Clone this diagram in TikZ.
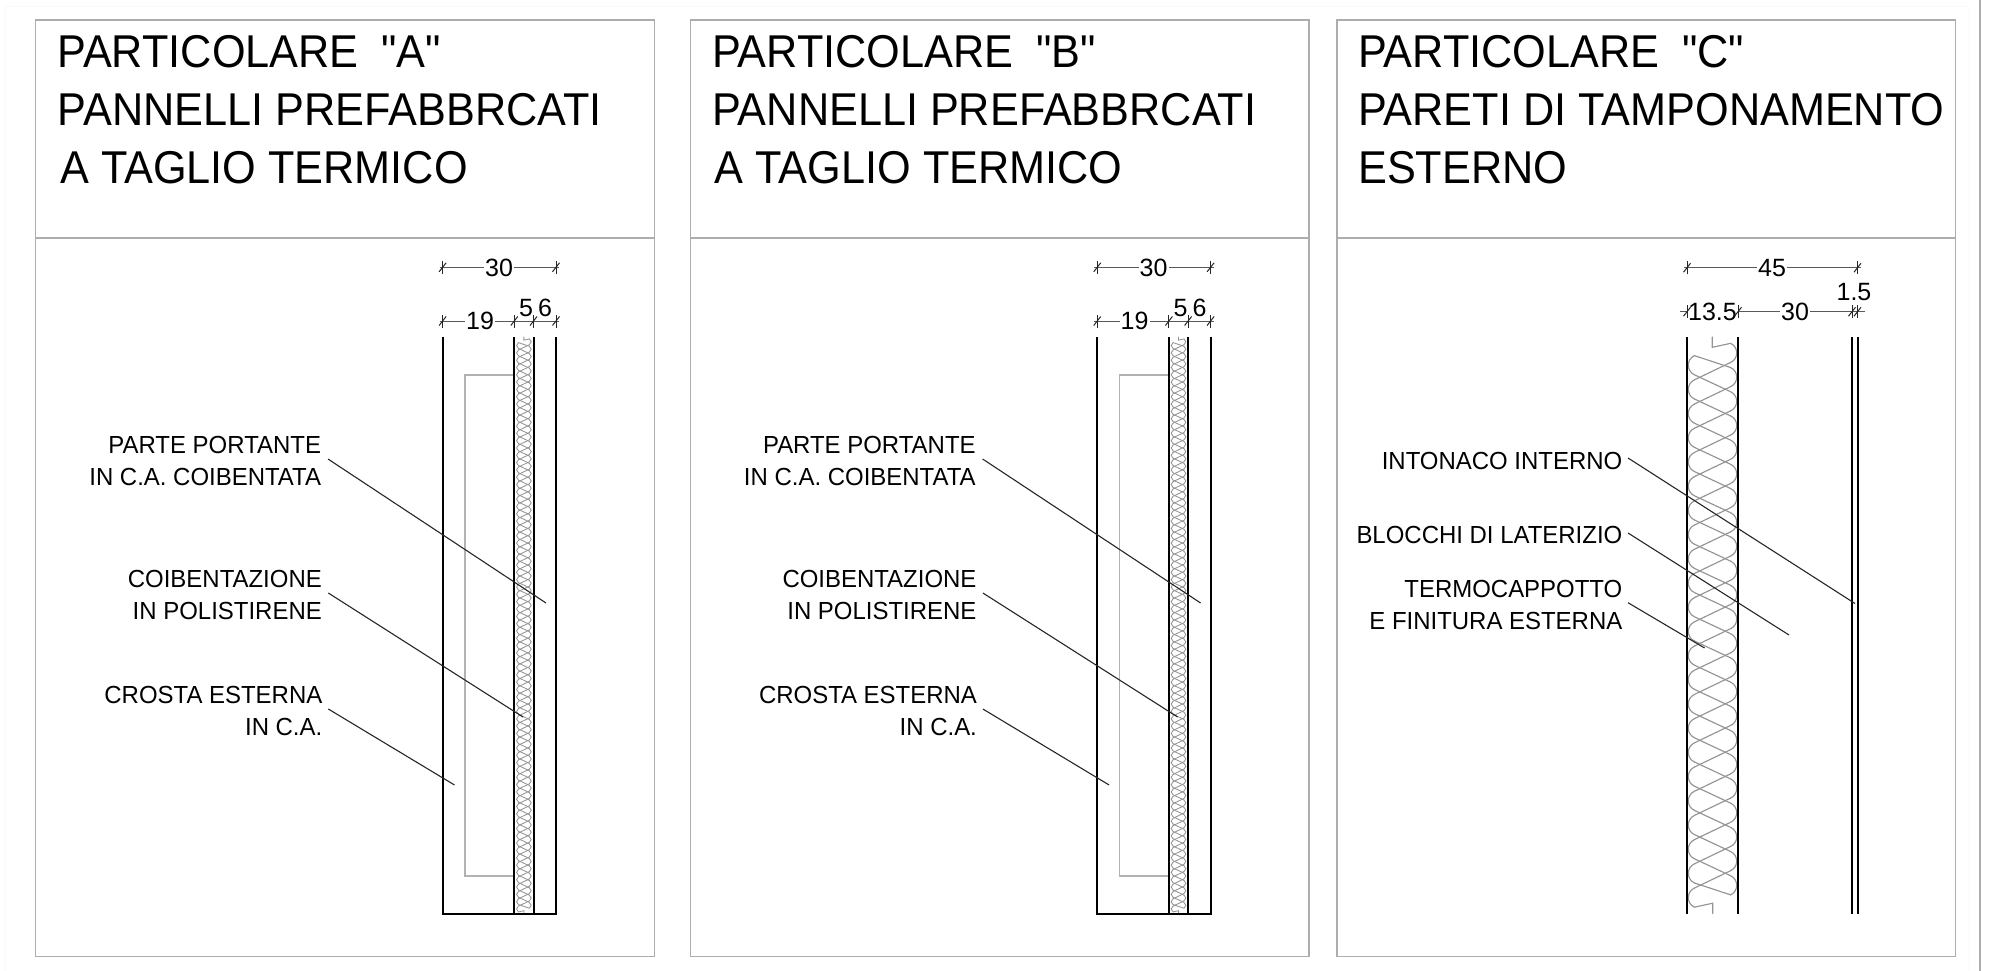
\documentclass[tikz,border=0pt]{standalone}
\usepackage{fontspec}
\setmainfont{Liberation Sans}[Ligatures=TeXOff]
\newfontfamily\titlefont{Liberation Sans}[FakeStretch=0.94,Ligatures=TeXOff]
\newfontfamily\labelfont{Liberation Sans}[FakeStretch=0.97,Ligatures=TeXOff]
\tikzset{
  frameline/.style={draw=black!32,line width=1.5pt},
  faintline/.style={draw=black!2,line width=1pt},
  wallline/.style={draw=black,line width=2pt},
  innerline/.style={draw=black!30,line width=1.3pt},
  battline/.style={draw=black!42,line width=1.15pt,line cap=round},
  leaderline/.style={draw=black!85,line width=1.1pt},
  dimline/.style={draw=black!65,line width=1pt},
  dimtickline/.style={draw=black!85,line width=1pt},
  titletext/.style={anchor=base west,inner sep=0pt,font=\titlefont\fontsize{46}{46}\selectfont},
  labeltext/.style={anchor=base east,inner sep=0pt,align=right,font=\labelfont\fontsize{24.7}{32}\selectfont},
  dimtext/.style={anchor=base,inner sep=1pt,font=\fontsize{25}{25}\selectfont},
  dimtextbg/.style={dimtext,fill=white},
}
% one tick mark at a named coordinate
\newcommand{\dimtk}[1]{\draw[dimtickline] ([shift={(0,6.5)}]#1) -- ([shift={(0,-6.5)}]#1);
  \draw[dimtickline] ([shift={(-3.5,4.5)}]#1) -- ([shift={(3.5,-4.5)}]#1);}
% insulation batt: centre x, top y, scale, N, line width
\newcommand{\battfill}[5]{%
\begin{scope}[shift={(#1,#2)},scale=#3,battline/.append style={line width=#5}]
\pgfmathsetmacro{\Hh}{44.1+24.2*#4}
\pgfmathtruncatemacro{\Nlast}{#4}
\foreach \k in {0,...,\Nlast}{
  \pgfmathsetmacro{\yR}{15.9+24.2*\k}
  \pgfmathsetmacro{\yL}{28.2+24.2*\k}
  \draw[battline] (18.11,\yR-9.56) .. controls (26.23,\yR-5.77) and (26.23,\yR+5.77) .. (18.11,\yR+9.56);
  \draw[battline] (-18.11,\yL-9.56) .. controls (-26.23,\yL-5.77) and (-26.23,\yL+5.77) .. (-18.11,\yL+9.56);
  \ifnum\k<\Nlast
    \pgfmathsetmacro{\yLn}{\yL+24.2}
    \draw[battline] (18.11,\yR+9.56) -- (-18.11,\yLn-9.56);
  \fi
  \pgfmathtruncatemacro{\Nb}{\Nlast-1}
  \ifnum\k<\Nb
    \pgfmathsetmacro{\yRn}{\yR+48.4}
    \draw[battline] (-18.11,\yL+9.56) -- (18.11,\yRn-9.56);
  \fi
}
\pgfmathsetmacro{\ya}{28.2-9.56}
\pgfmathsetmacro{\yb}{15.9+24.2-9.56}
\draw[battline] (-18.11,\ya) -- (18.11,\yb);
\pgfmathsetmacro{\yc}{\Hh-\ya}
\pgfmathsetmacro{\yd}{\Hh-\yb}
\draw[battline] (18.11,\yc) -- (-18.11,\yd);
\draw[battline] (18.11,6.34) -- (-0.2,10.3) -- (-0.2,0);
\pgfmathsetmacro{\ye}{\Hh-6.34}
\pgfmathsetmacro{\yf}{\Hh-10.3}
\draw[battline] (-18.11,\ye) -- (0.2,\yf) -- (0.2,\Hh);
\end{scope}}
% panels A and B
\newcommand{\prefabpanel}[3]{%
\begin{scope}[xshift=#2pt]
\coordinate (#1fa) at (35.7,20);
\coordinate (#1fb) at (654.3,956.3);
\draw[frameline] (#1fa) rectangle (#1fb);
\coordinate (#1da) at (35.7,238);
\coordinate (#1db) at (654.3,238);
\draw[frameline] (#1da) -- (#1db);
\node[titletext] (#1t1) at (57.3,68) {PARTICOLARE\hspace{0.5em}"#3"};
\node[titletext] (#1t2) at (57.5,125.7) {PANNELLI PREFABBRCATI};
\node[titletext] (#1t3) at (60,183) {A TAGLIO TERMICO};
% walls
\coordinate (#1w1t) at (442.6,337); \coordinate (#1w1b) at (442.6,914);
\coordinate (#1w2t) at (514.3,337); \coordinate (#1w2b) at (514.3,914);
\coordinate (#1w3t) at (533.5,337); \coordinate (#1w3b) at (533.5,914);
\coordinate (#1w4t) at (556,337); \coordinate (#1w4b) at (556,914);
\draw[innerline] (#1w2t |- 0,375) -| (465,876) -- (514.3,876);
\battfill{523.9}{337}{0.3024}{77}{0.85pt}
\draw[wallline] (#1w1t) -- (#1w1b) -- (#1w4b) -- (#1w4t);
\draw[wallline] (#1w2t) -- (#1w2b);
\draw[wallline] (#1w3t) -- (#1w3b);
% dimensions
\coordinate (#1d1) at (442.6,267.3); \coordinate (#1d2) at (556,267.3);
\draw[dimline,shorten <=-3pt,shorten >=-3pt] (#1d1) -- (#1d2);
\node[dimtextbg] (#1n30) at (499,276) {30};
\dimtk{#1d1}\dimtk{#1d2}
\coordinate (#1e1) at (442.6,321); \coordinate (#1e2) at (514.3,321);
\coordinate (#1e3) at (533.5,321); \coordinate (#1e4) at (556,321);
\draw[dimline,shorten <=-3pt,shorten >=-3pt] (#1e1) -- (#1e4);
\node[dimtextbg] (#1n19) at (480,329) {19};
\node[dimtext] (#1n5) at (526,316.7) {5};
\node[dimtext] (#1n6) at (545,316.7) {6};
\dimtk{#1e1}\dimtk{#1e2}\dimtk{#1e3}\dimtk{#1e4}
% labels
\node[labeltext] (#1l1) at (321.2,485) {PARTE PORTANTE\\IN C.A. COIBENTATA};
\node[labeltext] (#1l2) at (322,619) {COIBENTAZIONE\\IN POLISTIRENE};
\node[labeltext] (#1l3) at (322.5,735) {CROSTA ESTERNA\\IN C.A.};
\coordinate (#1s1) at (328,459); \coordinate (#1x1) at (546,603);
\coordinate (#1s2) at (328.3,593); \coordinate (#1x2) at (523,717);
\coordinate (#1s3) at (328.3,709); \coordinate (#1x3) at (454.5,785);
\draw[leaderline] (#1s1) -- (#1x1);
\draw[leaderline] (#1s2) -- (#1x2);
\draw[leaderline] (#1s3) -- (#1x3);
\end{scope}}
\begin{document}
\begin{tikzpicture}[x=1pt,y=-1pt]
\useasboundingbox (0,0) rectangle (1996,971);
\coordinate (pga) at (5,7); \coordinate (pgb) at (1969,972);
\draw[faintline] (pga) rectangle (pgb);
\coordinate (edgea) at (1980,0); \coordinate (edgeb) at (1980,971);
\draw[frameline] (edgea) -- (edgeb);

\prefabpanel{a}{0}{A}
\prefabpanel{b}{654.6}{B}

% panel C
\coordinate (cfa) at (1337,20); \coordinate (cfb) at (1955.7,956.3);
\draw[frameline] (cfa) rectangle (cfb);
\coordinate (cda) at (1337,238); \coordinate (cdb) at (1955.7,238);
\draw[frameline] (cda) -- (cdb);
\node[titletext] (ct1) at (1358,68) {PARTICOLARE\hspace{0.5em}"C"};
\node[titletext] (ct2) at (1358,125.7) {PARETI DI TAMPONAMENTO};
\node[titletext] (ct3) at (1358,183) {ESTERNO};
\battfill{1712.5}{337}{1}{22}{1.15pt}
\coordinate (cw1t) at (1687,337); \coordinate (cw1b) at (1687,914);
\coordinate (cw2t) at (1738,337); \coordinate (cw2b) at (1738,914);
\coordinate (cw3t) at (1852,337); \coordinate (cw3b) at (1852,914);
\coordinate (cw4t) at (1857.5,337); \coordinate (cw4b) at (1857.5,914);
\draw[wallline] (cw1t) -- (cw1b);
\draw[wallline] (cw2t) -- (cw2b);
\draw[wallline] (cw3t) -- (cw3b);
\draw[wallline] (cw4t) -- (cw4b);
\coordinate (cd1) at (1687,267.7); \coordinate (cd2) at (1857.5,267.7);
\draw[dimline,shorten <=-3pt,shorten >=-3pt] (cd1) -- (cd2);
\node[dimtextbg] (cn45) at (1772,276) {45};
\dimtk{cd1}\dimtk{cd2}
\coordinate (ce1) at (1687,311.7); \coordinate (ce2) at (1738,311.7);
\coordinate (ce3) at (1852,311.7); \coordinate (ce4) at (1857.5,311.7);
\draw[dimline,shorten <=-7pt,shorten >=-7pt] (ce1) -- (ce4);
\node[dimtextbg] (cn135) at (1712.5,320.7) {13.5};
\node[dimtextbg] (cn30) at (1795,320.7) {30};
\node[dimtext] (cn15) at (1854,300) {1.5};
\dimtk{ce1}\dimtk{ce2}\dimtk{ce3}\dimtk{ce4}
\node[labeltext] (cl1) at (1622.5,469.4) {INTONACO INTERNO};
\node[labeltext] (cl2) at (1622.5,543.4) {BLOCCHI DI LATERIZIO};
\node[labeltext] (cl3) at (1622.5,629.4) {TERMOCAPPOTTO\\E FINITURA ESTERNA};
\coordinate (cs1) at (1628,458); \coordinate (cx1) at (1855,603.5);
\coordinate (cs2) at (1628,533); \coordinate (cx2) at (1789,635);
\coordinate (cs3) at (1628,602.7); \coordinate (cx3) at (1704.6,648);
\draw[leaderline] (cs1) -- (cx1);
\draw[leaderline] (cs2) -- (cx2);
\draw[leaderline] (cs3) -- (cx3);
\end{tikzpicture}
\end{document}
